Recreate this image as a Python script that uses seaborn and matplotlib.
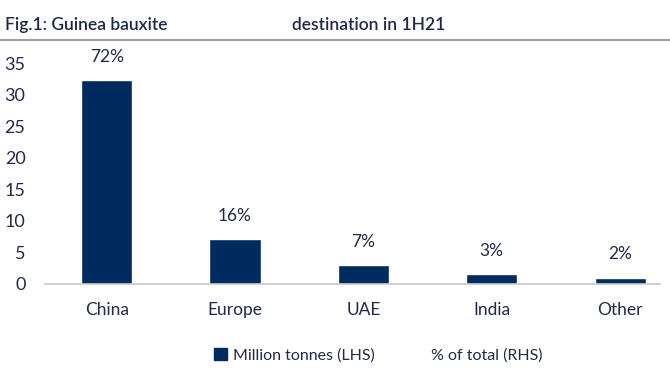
import matplotlib
matplotlib.use("Agg")
import matplotlib.pyplot as plt
import seaborn as sns
import pandas as pd
from matplotlib.lines import Line2D
from matplotlib.patches import Patch

categories = ["China", "Europe", "UAE", "India", "Other"]
million_tonnes = [32.3, 7.1, 3.0, 1.6, 1.0]
pct_labels = ["72%", "16%", "7%", "3%", "2%"]
y_ticks = [0, 5, 10, 15, 20, 25, 30, 35]

navy = "#002B5E"
text_c = "#1F2A4A"

sns.set_theme(style="white")
plt.rcParams["font.family"] = ["Lato", "DejaVu Sans"]

df = pd.DataFrame({"cat": categories, "val": million_tonnes})

fig = plt.figure(figsize=(6.7, 3.8), dpi=100)
ax = fig.add_axes([45/670, 1-284/380, 615/670, 221/380])
sns.barplot(data=df, x="cat", y="val", color=navy, width=0.4, saturation=1, ax=ax)
ax.set_xlim(-0.48, 4.31)
ax.set_ylim(0, 35)
ax.set_yticks(y_ticks)
ax.set_xlabel("")
ax.set_ylabel("")
for s in ["top", "right", "left"]:
    ax.spines[s].set_visible(False)
ax.spines["bottom"].set_color("#C8C8C8")
ax.spines["bottom"].set_linewidth(1.2)
ax.tick_params(axis="y", labelsize=13, colors=text_c, length=0, pad=14)
ax.tick_params(axis="x", labelsize=12.5, colors=text_c, length=0, pad=13)

for i, (v, t) in enumerate(zip(million_tonnes, pct_labels)):
    ax.annotate(t, (i, v), xytext=(0, 11), textcoords="offset points",
                ha="center", va="bottom", fontsize=12.5, color=text_c)

# title
fig.text(5/670, 1-25/380, "Fig.1: Guinea bauxite", fontsize=12.5, fontweight="semibold",
         color=text_c, va="center", ha="left")
fig.text(292/670, 1-25/380, "destination in 1H21", fontsize=12.5, fontweight="semibold",
         color=text_c, va="center", ha="left")
fig.add_artist(Line2D([0, 1], [1-40/380, 1-40/380], color="#A0A0A0", lw=1.5))

handles = [Patch(facecolor=navy, edgecolor=navy),
           Line2D([], [], linestyle="none", marker=None)]
fig.legend(handles, ["Million tonnes (LHS)", "% of total (RHS)"],
           loc="center", bbox_to_anchor=(378/670, 1-355/380), ncol=2, frameon=False,
           fontsize=11.5, handlelength=0.8, handleheight=0.8, handletextpad=0.4,
           columnspacing=2.3, labelcolor=text_c)

fig.savefig("out.png", dpi=100)
